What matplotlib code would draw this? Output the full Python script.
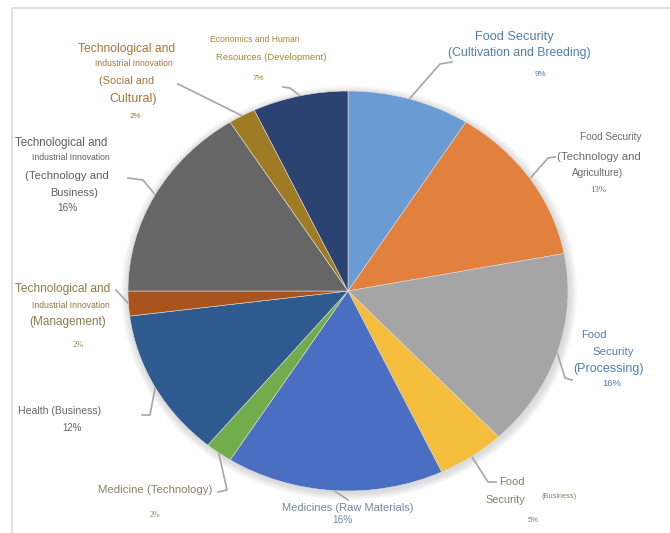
import numpy as np
import matplotlib.pyplot as plt
from matplotlib.patches import Ellipse

# slices, clockwise from 12 o'clock
values = [9, 13, 16, 5, 16, 2, 12, 2, 16, 2, 7]
colors = ['#6a9bd3', '#e2803e', '#a5a5a5', '#f4bd3c', '#4a6fc2', '#72ad4c',
          '#2e5a90', '#a9541c', '#666666', '#9f7c24', '#2c4270']

# label lines for each slice: (text, x px, y px, size)
label_lines = [
    [("Food Security", 514, 37, 9.2), ("(Cultivation and Breeding)", 519, 53, 8.8)],
    [("Food Security", 611, 137, 7.2), ("(Technology and", 599, 157, 8.2), ("Agriculture)", 598, 173, 7.2)],
    [("Food", 594, 335, 8.0), ("Security", 613, 352, 8.2), ("(Processing)", 608, 369, 9.0)],
    [("Food", 512, 482, 8.0), ("Security", 505, 500, 7.8), ("(Business)", 559, 497, 5.3)],
    [("Medicines (Raw Materials)", 348, 508, 8.0)],
    [("Medicine (Technology)", 155, 490, 8.2)],
    [("Health (Business)", 60, 411, 7.6)],
    [("Technological and", 63, 289, 8.6), ("Industrial Innovation", 71, 305, 6.2), ("(Management)", 68, 322, 8.5)],
    [("Technological and", 61, 143, 8.3), ("Industrial Innovation", 71, 158, 6.2),
     ("(Technology and", 67, 176, 8.2), ("Business)", 74, 193, 7.8)],
    [("Technological and", 127, 49, 8.7), ("Industrial Innovation", 134, 64, 6.2),
     ("(Social and", 127, 81, 7.9), ("Cultural)", 133, 99, 9.0)],
    [("Economics and Human", 255, 40, 6.2), ("Resources (Development)", 271, 57, 6.8)],
]
# percent label position: (x px, y px, size, family)
pct_pos = [(540, 74, 5.8, 'sans'), (598, 190, 6.4, 'serif'), (612, 383, 6.8, 'sans'),
           (533, 521, 5.6, 'sans'), (342, 520, 7.2, 'sans'), (155, 515, 5.8, 'serif'),
           (72, 428, 7.0, 'sans'), (78, 345, 6.0, 'serif'), (67, 208, 7.2, 'sans'),
           (135, 117, 5.8, 'sans'), (258, 78, 5.8, 'sans')]
text_colors = ['#4f7fb5', '#6b6b6b', '#4f7fb5', '#7f7f6a', '#6f87a6', '#8a7e66',
               '#666666', '#8b7a45', '#5e5e5e', '#a8743a', '#a08b32']
# leader line bends after the wedge point (px)
leaders = [
    [(440, 64), (452, 62)],
    [(548, 158), (555, 157)],
    [(565, 378), (572, 380)],
    [(488, 482), (496, 482)],
    [(348, 500)],
    [(227, 490), (218, 492)],
    [(150, 415), (142, 415)],
    [(116, 290)],
    [(143, 180), (128, 178)],
    [(178, 84)],
    [(290, 88), (283, 87)],
]

CX, CY, RX, RY = 348, 291, 220, 200
W, H = 670, 533


def px(x, y):
    return (x - CX) / RX, (CY - y) / RY


fig = plt.figure(figsize=(W / 100, H / 100), dpi=100)
ax = fig.add_axes([0, 0, 1, 1])

# soft shadow round the pie
for k in range(6):
    r = 1.0 + 0.006 * (k + 1)
    ax.add_patch(Ellipse((0.005, -0.01), 2 * r, 2 * r, facecolor='#888888',
                         edgecolor='none', alpha=0.05, zorder=0))

wedges, _ = ax.pie(values, colors=colors, startangle=90, counterclock=False,
                   wedgeprops=dict(linewidth=0.4, edgecolor='#dddddd', zorder=2))
ax.set_aspect('auto')
x0, y0 = px(0, H)
x1, y1 = px(W, 0)
ax.set_xlim(x0, x1)
ax.set_ylim(y0, y1)
ax.axis('off')

# frame
fx, fy = zip(*[px(12, H + 5), px(12, 8), px(W + 5, 8)])
ax.plot(fx, fy, color='#d9d9d9', lw=1.2, clip_on=False)

fam = {'sans': 'Liberation Sans', 'serif': 'Liberation Serif'}
for i, w in enumerate(wedges):
    mid = np.deg2rad((w.theta1 + w.theta2) / 2)
    pts = [(np.cos(mid), np.sin(mid))] + [px(*p) for p in leaders[i]]
    lx, ly = zip(*pts)
    ax.plot(lx, ly, color='#a6a6a6', lw=1.2, solid_joinstyle='round', zorder=1)
    for txt, x, y, s in label_lines[i]:
        ax.text(*px(x, y), txt, ha='center', va='center', fontsize=s,
                family='Liberation Sans', color=text_colors[i])
    x, y, s, f = pct_pos[i]
    ax.text(*px(x, y), f"{values[i]}%", ha='center', va='center', fontsize=s,
            family=fam[f], color=text_colors[i])

plt.savefig('out.png', dpi=100)
